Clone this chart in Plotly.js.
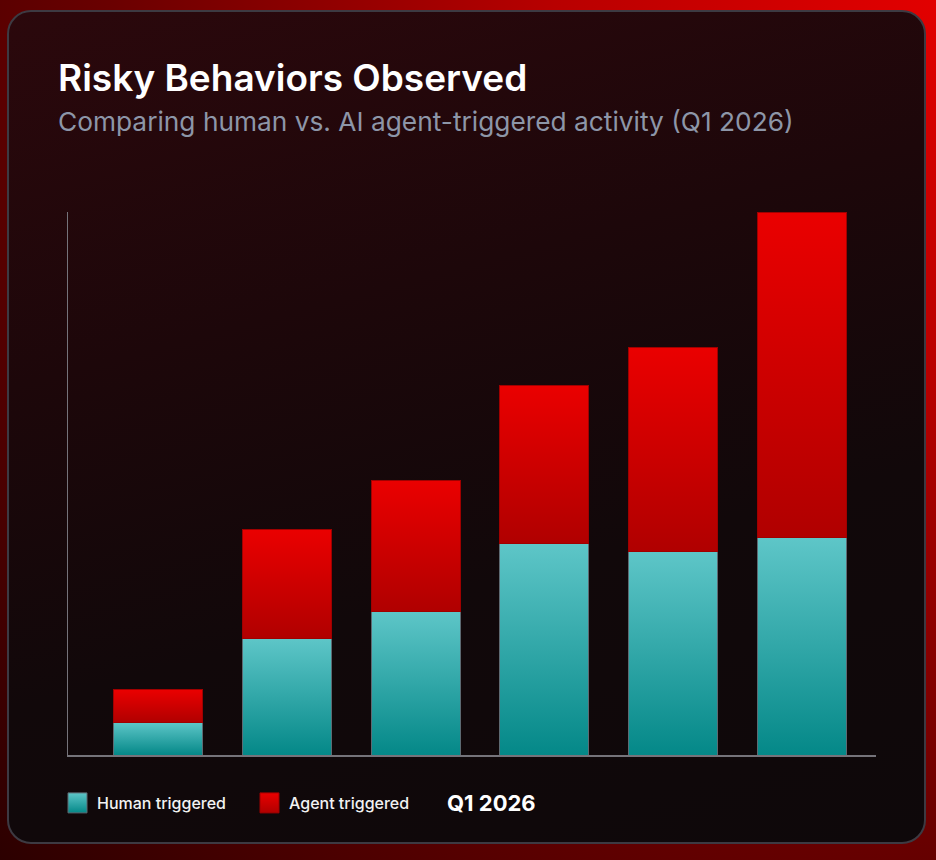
<!DOCTYPE html>
<html>
<head>
<meta charset="utf-8">
<script src="https://cdn.plot.ly/plotly-3.0.1.min.js"></script>
<style>
  html, body { margin: 0; padding: 0; width: 936px; height: 860px; overflow: hidden; }
  body { background: radial-gradient(circle at 100% 0%, #e20000 0%, #b80000 30%, #6a0000 65%, #2c0000 100%); position: relative; }
  #card { position: absolute; left: 7px; top: 10px; width: 915px; height: 830px; border: 2px solid #3d3a42; border-radius: 24px;
          background: linear-gradient(165deg, #2b080c 0%, #1d070a 35%, #11080a 65%, #0e080a 100%); }
  #chart { position: absolute; left: 0; top: 0; width: 936px; height: 860px; }
</style>
</head>
<body>
<div id="card"></div>
<div id="chart"></div>
<script>
// ---- data ----
const categories = ["Group 1", "Group 2", "Group 3", "Group 4", "Group 5", "Group 6"];
const humanTriggered = [12, 43, 53, 78, 75, 80];
const agentTriggered = [12, 40, 48, 58, 75, 120];
const seriesNames = ["Human triggered", "Agent triggered"];
const titleText = "Risky Behaviors Observed";
const subtitleText = "Comparing human vs. AI agent-triggered activity (Q1 2026)";
const periodLabel = "Q1 2026";

const FONT = "Inter, 'Noto Sans', 'DejaVu Sans', sans-serif";

const traces = [
  {
    type: "bar", name: seriesNames[0], x: categories, y: humanTriggered,
    marker: { color: "#2ea6a7", line: { color: "#5d6a72", width: 1 } },
    hoverinfo: "skip"
  },
  {
    type: "bar", name: seriesNames[1], x: categories, y: agentTriggered,
    marker: { color: "#d40000", line: { color: "#a00000", width: 1 } },
    hoverinfo: "skip"
  }
];

const W = 936, H = 860, L = 68, R = 60, T = 212, B = 105;
const pw = W - L - R, ph = H - T - B;
const px = v => (v - L) / pw;
const py = v => (H - B - v) / ph;

const layout = {
  width: W, height: H,
  margin: { l: L, r: R, t: T, b: B, pad: 0 },
  paper_bgcolor: "rgba(0,0,0,0)",
  plot_bgcolor: "rgba(0,0,0,0)",
  barmode: "stack",
  bargap: 0.31,
  showlegend: true,
  legend: {
    orientation: "h", x: px(57), xanchor: "left", y: py(803), yanchor: "middle",
    font: { family: FONT, size: 16, color: "#f2f2f2", weight: 500 },
    bgcolor: "rgba(0,0,0,0)", traceorder: "normal",
    entrywidth: 147, entrywidthmode: "pixels"
  },
  xaxis: {
    type: "category", range: [-0.694, 5.57],
    showticklabels: false, ticks: "", showgrid: false, zeroline: false,
    showline: true, linecolor: "#75737a", linewidth: 1.5, fixedrange: true
  },
  yaxis: {
    range: [0, 200], showticklabels: false, ticks: "", showgrid: false, zeroline: false,
    showline: true, linecolor: "#75737a", linewidth: 1.5, fixedrange: true
  },
  annotations: [
    { text: titleText, xref: "paper", yref: "paper", x: px(56), y: py(77), xanchor: "left", yanchor: "middle",
      showarrow: false, font: { family: FONT, size: 37, color: "#ffffff", weight: 600 } },
    { text: subtitleText, xref: "paper", yref: "paper", x: px(56), y: py(121), xanchor: "left", yanchor: "middle",
      showarrow: false, font: { family: FONT, size: 26.3, color: "#8d96a8", weight: 400 } },
    { text: periodLabel, xref: "paper", yref: "paper", x: px(445), y: py(803), xanchor: "left", yanchor: "middle",
      showarrow: false, font: { family: FONT, size: 22, color: "#ffffff", weight: 700 } }
  ]
};

Plotly.newPlot("chart", traces, layout, { displayModeBar: false, staticPlot: true }).then(gd => {
  const NS = "http://www.w3.org/2000/svg";
  const svg = gd.querySelector(".main-svg");
  let defs = svg.querySelector("defs");
  if (!defs) { defs = document.createElementNS(NS, "defs"); svg.insertBefore(defs, svg.firstChild); }
  function grad(id, top, bottom) {
    const g = document.createElementNS(NS, "linearGradient");
    g.setAttribute("id", id); g.setAttribute("x1", "0"); g.setAttribute("y1", "0");
    g.setAttribute("x2", "0"); g.setAttribute("y2", "1");
    [[0, top], [1, bottom]].forEach(([o, c]) => {
      const s = document.createElementNS(NS, "stop");
      s.setAttribute("offset", o); s.setAttribute("stop-color", c); g.appendChild(s);
    });
    defs.appendChild(g);
  }
  grad("gTeal", "#5ec6c8", "#048888");
  grad("gRed", "#ea0000", "#b00000");
  const ids = ["url(#gTeal)", "url(#gRed)"];
  gd.querySelectorAll(".barlayer .trace").forEach((t, i) => {
    t.querySelectorAll("path").forEach(p => { p.style.fill = ids[i]; });
  });
  gd.querySelectorAll(".legend .traces").forEach((t, i) => {
    t.querySelectorAll(".legendpoints path").forEach(p => {
      p.setAttribute("d", "M10,10H-9V-10H10Z");
      p.style.fill = ids[i];
    });
  });
});
</script>
</body>
</html>
